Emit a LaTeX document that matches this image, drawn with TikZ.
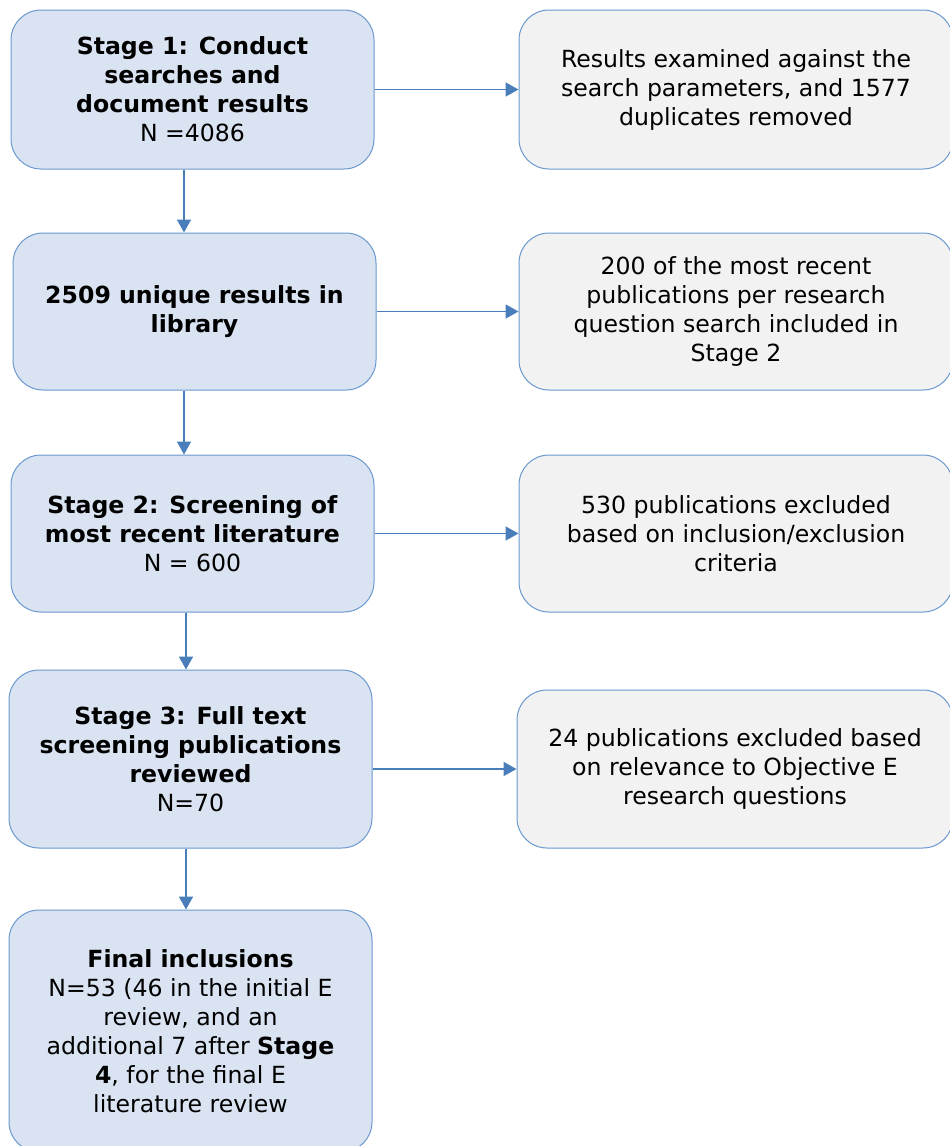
\documentclass[tikz,border=0pt]{standalone}
\usepackage{fontspec}
\setmainfont{DejaVu Sans}
\usetikzlibrary{positioning,arrows.meta}
\definecolor{stagefill}{HTML}{DAE3F1}
\definecolor{boxline}{HTML}{6A98D0}
\definecolor{notefill}{HTML}{F2F2F2}
\definecolor{flowblue}{HTML}{4A7EBB}

\begin{document}
\begin{tikzpicture}[
  x=1pt, y=1pt,
  font=\fontsize{23.6}{29}\selectfont,
  stage/.style = {draw=boxline, line width=1pt, fill=stagefill,
                  rounded corners=30pt, align=center, inner sep=0pt,
                  minimum width=363pt},
  note/.style  = {draw=boxline, line width=1pt, fill=notefill,
                  rounded corners=30pt, align=center, inner sep=0pt,
                  minimum width=434pt},
  flow/.style  = {-{Triangle[length=13pt,width=14pt]}, draw=flowblue,
                  line width=1.8pt}
]
\clip (0,0) rectangle (950,-1146);

% ---------- stages (left column) -------------------------------------------
\node[stage, minimum height=159pt] (a1) at (192.5,-89.5)
  {\textbf{Stage 1: Conduct}\\\textbf{searches and}\\\textbf{document results}\\N =4086};
\node[stage, minimum height=157pt] (a2) at (194.5,-311.5)
  {\textbf{2509 unique results in}\\\textbf{library}};
\node[stage, minimum height=157pt] (a3) at (192.5,-533.5)
  {\textbf{Stage 2: Screening of}\\\textbf{most recent literature}\\N = 600};
\node[stage, minimum height=178pt] (a4) at (190.5,-759)
  {\textbf{Stage 3: Full text}\\\textbf{screening publications}\\\textbf{reviewed}\\N=70};
\node[stage, minimum height=242pt] (a5) at (190.5,-1031)
  {\textbf{Final inclusions}\\N=53 (46 in the initial E\\review, and an\\additional 7 after \textbf{Stage}\\\textbf{4}, for the final E\\literature review};

% ---------- outcomes (right column) ----------------------------------------
\node[note, minimum height=159pt] (b1) at (736,-89.5)
  {Results examined against the\\search parameters, and 1577\\duplicates removed};
\node[note, minimum height=157pt] (b2) at (736,-311.5)
  {200 of the most recent\\publications per research\\question search included in\\Stage 2};
\node[note, minimum height=157pt] (b3) at (736,-533.5)
  {530 publications excluded\\based on inclusion/exclusion\\criteria};
\node[note, minimum height=158pt, minimum width=436pt] (b4) at (735,-769)
  {24 publications excluded based\\on relevance to Objective E\\research questions};

% ---------- connectors -----------------------------------------------------
\draw[flow] (a1.east) -- (b1.west);
\draw[flow] (a2.east) -- (b2.west);
\draw[flow] (a3.east) -- (b3.west);
\draw[flow] (a4.east |- b4.west) -- (b4.west);

\draw[flow] ([xshift=-8.5pt]a1.south) -- ([xshift=-8.5pt]a1.south |- a2.north);
\draw[flow] ([xshift=-10.5pt]a2.south) -- ([xshift=-10.5pt]a2.south |- a3.north);
\draw[flow] ([xshift=-6.5pt]a3.south) -- ([xshift=-6.5pt]a3.south |- a4.north);
\draw[flow] ([xshift=-4.5pt]a4.south) -- ([xshift=-4.5pt]a4.south |- a5.north);

\end{tikzpicture}
\end{document}
